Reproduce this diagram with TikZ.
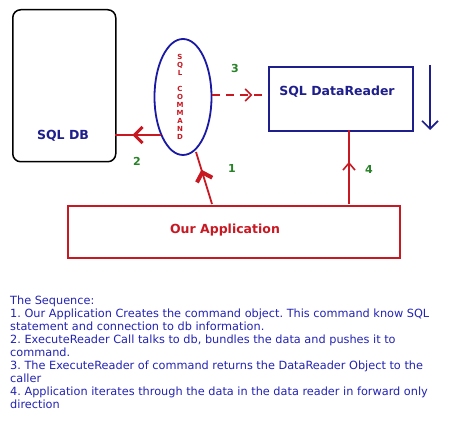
\documentclass[tikz,border=0pt]{standalone}
\usepackage{fontspec}
\setmainfont{DejaVu Sans}
\usetikzlibrary{arrows.meta,shapes.geometric,decorations.markings}
\definecolor{appred}{RGB}{200,25,35}
\definecolor{navy}{RGB}{30,30,140}
\definecolor{ellblue}{RGB}{25,25,165}
\definecolor{numgreen}{RGB}{40,130,40}
\definecolor{txtblue}{RGB}{35,35,180}
\tikzset{
  midchev/.style n args={2}{postaction={decorate,decoration={markings,
      mark=at position #1 with {\arrow{#2}}}}},
  numlbl/.style={text=numgreen,font=\fontsize{11}{13}\selectfont\bfseries},
  seqline/.style={anchor=base west,inner sep=0pt,text=txtblue,font=\fontsize{11.3}{13}\selectfont\frenchspacing},
}
\begin{document}
\begin{tikzpicture}[x=1pt,y=-1pt]
\useasboundingbox (0,0) rectangle (452,430);
\fill[white] (0,0) rectangle (452,430);
% SQL DB
\node[draw=black,line width=1.5pt,rounded corners=8pt,minimum width=103pt,minimum height=152pt,anchor=north west] (db) at (12,9) {};
\node[text=navy,font=\fontsize{12.5}{14}\selectfont\bfseries] (dbt) at (63,136) {SQL DB};
% ellipse
\node[draw=ellblue,line width=1.8pt,ellipse,minimum width=57pt,minimum height=116pt,inner sep=0pt] (cmd) at (183,97) {};
\node[text=appred,align=center,inner sep=0pt,font=\fontsize{7}{8}\selectfont\bfseries] (cmdt) at (180,96.5) {S\\Q\\L\\[8pt]C\\O\\M\\M\\A\\N\\D};
% data reader
\node[draw=navy,line width=1.8pt,minimum width=144pt,minimum height=64pt,anchor=north west] (dr) at (268,66) {};
\node[text=navy,font=\fontsize{12.5}{14}\selectfont\bfseries] (drt) at (337,92) {SQL DataReader};
% application
\node[draw=appred,line width=1.8pt,minimum width=332pt,minimum height=52pt,anchor=north west] (app) at (67,205) {};
\node[text=appred,font=\fontsize{12.5}{14}\selectfont\bfseries] (appt) at (225,230) {Our Application};
% coordinates
\coordinate (c2s) at (161,135);
\coordinate (c2e) at (115,135);
\coordinate (c1s) at (212,204);
\coordinate (c1e) at (196,152);
\coordinate (c3s) at (212,95);
\coordinate (c3e) at (268,95);
\coordinate (c4s) at (349,204);
\coordinate (c4e) at (349,130);
\coordinate (dns) at (430,65);
\coordinate (dne) at (430,130);
% arrow 2
\draw[appred,line width=2.4pt,midchev={0.62}{Straight Barb[length=8pt,width=16pt,line width=3pt]}] (c2s) -- (c2e);
% arrow 1
\draw[appred,line width=1.8pt,midchev={0.66}{Straight Barb[length=8pt,width=16pt,line width=4pt]}] (c1s) -- (c1e);
% arrow 3
\draw[appred,line width=1.8pt,dash pattern=on 8pt off 6pt,midchev={0.72}{Straight Barb[length=6pt,width=12pt,line width=1.6pt]}] (c3s) -- (c3e);
% arrow 4
\draw[appred,line width=1.8pt,midchev={0.57}{Straight Barb[length=7pt,width=12pt,line width=1.6pt]}] (c4s) -- (c4e);
% down arrow
\draw[navy,line width=1.6pt,-{Straight Barb[length=8pt,width=16pt,line width=1.6pt]}] (dns) -- (dne);
% numbers
\node[numlbl] (n1) at (232,168) {1};
\node[numlbl] (n2) at (137,161) {2};
\node[numlbl] (n3) at (235,68) {3};
\node[numlbl] (n4) at (369,169) {4};
% sequence text
\node[seqline] (s0) at (10,304) {The Sequence:};
\node[seqline] (s1) at (10,317) {1. Our Application Creates the command object. This command know SQL};
\node[seqline] (s2) at (10,330) {statement and connection to db information.};
\node[seqline] (s3) at (10,343) {2. ExecuteReader Call talks to db, bundles the data and pushes it to};
\node[seqline] (s4) at (10,356) {command.};
\node[seqline] (s5) at (10,369) {3. The ExecuteReader of command returns the DataReader Object to the};
\node[seqline] (s6) at (10,382) {caller};
\node[seqline] (s7) at (10,395) {4. Application iterates through the data in the data reader in forward only};
\node[seqline] (s8) at (10,408) {direction};
\end{tikzpicture}
\end{document}
